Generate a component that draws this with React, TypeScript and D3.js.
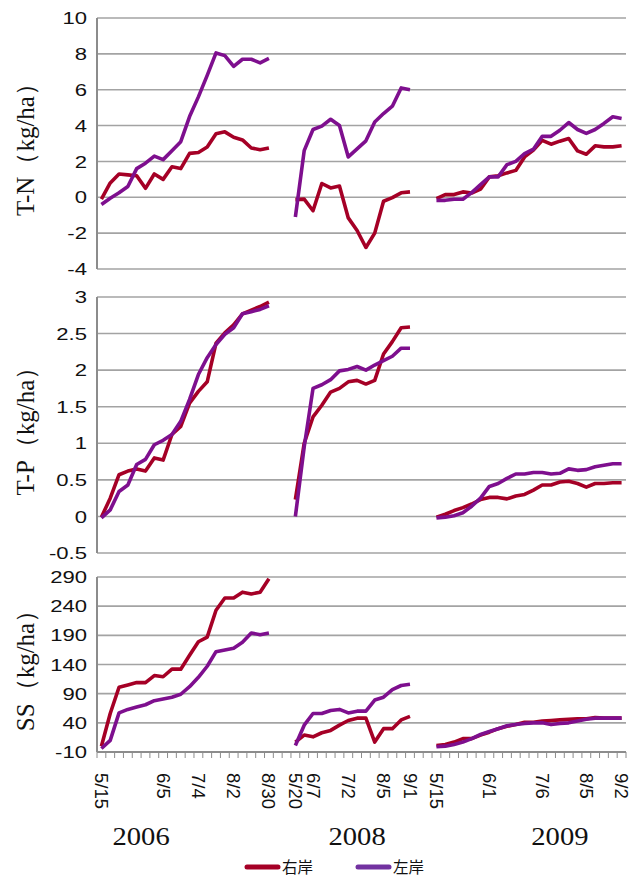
import { line, scaleBand, scaleLinear } from "d3";

const W = 638;
const H = 883;

// category labels per campaign year (blank = unlabelled sampling date)
const dates2006 = ["5/15", "", "", "", "", "", "", "6/5", "", "", "", "7/4", "", "", "", "8/2", "", "", "", "8/30"];
const dates2008 = ["5/20", "", "6/7", "", "", "", "7/2", "", "", "", "8/5", "", "", "9/1"];
const dates2009 = ["5/15", "", "", "", "", "", "6/1", "", "", "", "", "", "7/6", "", "", "", "", "8/5", "", "", "", "9/2"];
const years = ["2006", "2008", "2009"];
const GAP = 2;

const seriesNames = ["右岸", "左岸"];

// T-N (kg/ha)
const tnTicks = [-4, -2, 0, 2, 4, 6, 8, 10];
const tnRight2006 = [-0.1, 0.8, 1.3, 1.25, 1.2, 0.5, 1.3, 1.0, 1.7, 1.6, 2.45, 2.5, 2.8, 3.55, 3.65, 3.35, 3.2, 2.75, 2.65, 2.75];
const tnLeft2006 = [-0.4, -0.05, 0.25, 0.6, 1.6, 1.9, 2.3, 2.1, 2.6, 3.1, 4.5, 5.6, 6.8, 8.05, 7.9, 7.3, 7.7, 7.7, 7.5, 7.75];
const tnRight2008 = [-0.13, -0.1, -0.75, 0.77, 0.52, 0.63, -1.15, -1.85, -2.8, -2.0, -0.22, -0.02, 0.25, 0.3];
const tnLeft2008 = [-1.1, 2.6, 3.78, 3.97, 4.35, 4.0, 2.25, 2.7, 3.15, 4.2, 4.67, 5.08, 6.1, 6.0];
const tnRight2009 = [-0.07, 0.15, 0.15, 0.3, 0.24, 0.45, 1.14, 1.2, 1.36, 1.5, 2.25, 2.63, 3.18, 2.96, 3.13, 3.28, 2.59, 2.4, 2.87, 2.81, 2.81, 2.87];
const tnLeft2009 = [-0.17, -0.17, -0.11, -0.11, 0.26, 0.71, 1.14, 1.14, 1.82, 2.0, 2.44, 2.68, 3.4, 3.4, 3.74, 4.17, 3.78, 3.56, 3.78, 4.12, 4.49, 4.4];

// T-P (kg/ha)
const tpTicks = [-0.5, 0, 0.5, 1, 1.5, 2, 2.5, 3];
const tpRight2006 = [-0.01, 0.25, 0.57, 0.62, 0.65, 0.62, 0.8, 0.77, 1.12, 1.23, 1.55, 1.71, 1.84, 2.37, 2.51, 2.62, 2.77, 2.82, 2.87, 2.93];
const tpLeft2006 = [-0.02, 0.09, 0.34, 0.43, 0.71, 0.78, 0.98, 1.04, 1.12, 1.3, 1.6, 1.94, 2.17, 2.35, 2.49, 2.58, 2.77, 2.8, 2.83, 2.88];
const tpRight2008 = [0.23, 1.0, 1.36, 1.52, 1.7, 1.75, 1.84, 1.86, 1.81, 1.86, 2.22, 2.39, 2.58, 2.59];
const tpLeft2008 = [0.0, 0.95, 1.75, 1.8, 1.87, 1.99, 2.01, 2.05, 2.0, 2.07, 2.13, 2.19, 2.3, 2.3];
const tpRight2009 = [-0.01, 0.03, 0.08, 0.12, 0.17, 0.23, 0.26, 0.26, 0.24, 0.28, 0.3, 0.36, 0.43, 0.43, 0.47, 0.48, 0.45, 0.4, 0.45, 0.45, 0.46, 0.46];
const tpLeft2009 = [-0.02, -0.01, 0.01, 0.05, 0.14, 0.25, 0.41, 0.45, 0.52, 0.58, 0.58, 0.6, 0.6, 0.58, 0.59, 0.65, 0.63, 0.64, 0.68, 0.7, 0.72, 0.72];

// SS (kg/ha)
const ssTicks = [-10, 40, 90, 140, 190, 240, 290];
const ssRight2006 = [0, 56, 101, 105, 109, 109, 121, 119, 132, 132, 156, 179, 187, 233, 254, 254, 264, 261, 264, 287];
const ssLeft2006 = [-4, 10, 57, 63, 67, 71, 78, 81, 84, 89, 102, 118, 137, 162, 165, 168, 178, 194, 191, 194];
const ssRight2008 = [7, 19, 16, 23, 27, 36, 44, 48, 48, 7, 30, 30, 45, 51];
const ssLeft2008 = [1, 36, 56, 56, 61, 63, 57, 60, 60, 79, 84, 97, 104, 106];
const ssRight2009 = [1, 3, 7, 13, 13, 19, 24, 30, 34, 37, 41, 41, 43, 44, 45, 46, 47, 47, 49, 48, 48, 48];
const ssLeft2009 = [-1, 0, 3, 7, 13, 20, 25, 30, 35, 37, 39, 40, 40, 37, 39, 40, 43, 46, 48, 48, 48, 48];

const RED = "#a50026";
const PURPLE = "#7e0f8e";
const LEGEND_PURPLE = "#7232a0";
const GRID = "#a3a3a3";

const gap = Array(GAP).fill("");
const categories = [...dates2006, ...gap, ...dates2008, ...gap, ...dates2009];
const starts = [0, dates2006.length + GAP, dates2006.length + dates2008.length + 2 * GAP];

const panels = [
  { title: "T-N（kg/ha）", ticks: tnTicks, range: [269, 18], right: [tnRight2006, tnRight2008, tnRight2009], left: [tnLeft2006, tnLeft2008, tnLeft2009] },
  { title: "T-P（kg/ha）", ticks: tpTicks, range: [553, 297], right: [tpRight2006, tpRight2008, tpRight2009], left: [tpLeft2006, tpLeft2008, tpLeft2009] },
  { title: "SS（kg/ha）", ticks: ssTicks, range: [752, 577], right: [ssRight2006, ssRight2008, ssRight2009], left: [ssLeft2006, ssLeft2008, ssLeft2009] },
];

const PLOT_LEFT = 97;
const PLOT_RIGHT = 626;
const yearAnchor = [4.5, 29, 52];

export default function App() {
  const x = scaleBand<number>()
    .domain(categories.map((_, i) => i))
    .range([PLOT_LEFT, PLOT_RIGHT])
    .paddingInner(0)
    .paddingOuter(0);
  const bw = x.bandwidth();
  const cx = (i: number) => PLOT_LEFT + bw * (i + 0.5);

  return (
    <svg width={W} height={H} style={{ position: "absolute", left: 0, top: 0, background: "#fff" }}>
      {panels.map((p, pi) => {
        const y = scaleLinear().domain([p.ticks[0], p.ticks[p.ticks.length - 1]]).range(p.range);
        const segPath = (vals: number[], seg: number) =>
          line<number>()
            .x((_, i) => cx(starts[seg] + i))
            .y((v) => y(v))(vals) ?? "";
        const midY = (p.range[0] + p.range[1]) / 2;
        return (
          <g key={pi}>
            {p.ticks.map((t) => (
              <g key={t}>
                <line x1={PLOT_LEFT} x2={PLOT_RIGHT} y1={y(t)} y2={y(t)} stroke={GRID} strokeWidth={1.6} />
                <text
                  transform={`translate(87,${y(t)}) scale(1.3,1)`}
                  dy="0.36em"
                  textAnchor="end"
                  fontFamily="'Liberation Sans', Arial, sans-serif"
                  fontSize={17}
                  fill="#111"
                >
                  {t}
                </text>
              </g>
            ))}
            <line x1={PLOT_LEFT} x2={PLOT_LEFT} y1={p.range[1]} y2={p.range[0]} stroke="#8c8c8c" strokeWidth={2} />
            {p.right.map((vals, s) => (
              <path key={`r${s}`} d={segPath(vals, s)} fill="none" stroke={RED} strokeWidth={3.6} strokeLinejoin="round" />
            ))}
            {p.left.map((vals, s) => (
              <path key={`l${s}`} d={segPath(vals, s)} fill="none" stroke={PURPLE} strokeWidth={3.6} strokeLinejoin="round" />
            ))}
            <text
              transform={`translate(34,${midY}) rotate(-90)`}
              textAnchor="middle"
              fontFamily="'Liberation Serif', 'Times New Roman', serif"
              fontSize={25}
              fill="#111"
            >
              {p.title}
            </text>
          </g>
        );
      })}
      {/* category axis */}
      <line x1={PLOT_LEFT} x2={PLOT_RIGHT} y1={752} y2={752} stroke="#8c8c8c" strokeWidth={2} />
      {categories.map((_, i) => (
        <line key={`t${i}`} x1={x(i)} x2={x(i)} y1={752} y2={758} stroke="#8c8c8c" strokeWidth={1} />
      ))}
      <line x1={PLOT_RIGHT} x2={PLOT_RIGHT} y1={752} y2={758} stroke="#8c8c8c" strokeWidth={1} />
      {categories.map((c, i) =>
        c ? (
          <text
            key={`c${i}`}
            transform={`translate(${cx(i)},773) rotate(90)`}
            dy="0.35em"
            fontFamily="'Liberation Sans', Arial, sans-serif"
            fontSize={18.5}
            fill="#111"
          >
            {c}
          </text>
        ) : null
      )}
      {years.map((yr, i) => (
        <text
          key={yr}
          transform={`translate(${cx(yearAnchor[i])},845) scale(1.1,1)`}
          textAnchor="middle"
          fontFamily="'Liberation Serif', 'Times New Roman', serif"
          fontSize={26}
          fill="#111"
        >
          {yr}
        </text>
      ))}
      {/* legend */}
      {seriesNames.map((name, i) => {
        const lx = 247 + i * 111;
        return (
          <g key={name}>
            <line x1={lx} x2={lx + 31} y1={867} y2={867} stroke={i === 0 ? RED : LEGEND_PURPLE} strokeWidth={5} strokeLinecap="round" />
            <text
              x={lx + 35}
              y={867}
              dy="0.36em"
              fontFamily="'Noto Sans CJK SC', sans-serif"
              fontSize={15.5}
              fill="#111"
            >
              {name}
            </text>
          </g>
        );
      })}
    </svg>
  );
}
